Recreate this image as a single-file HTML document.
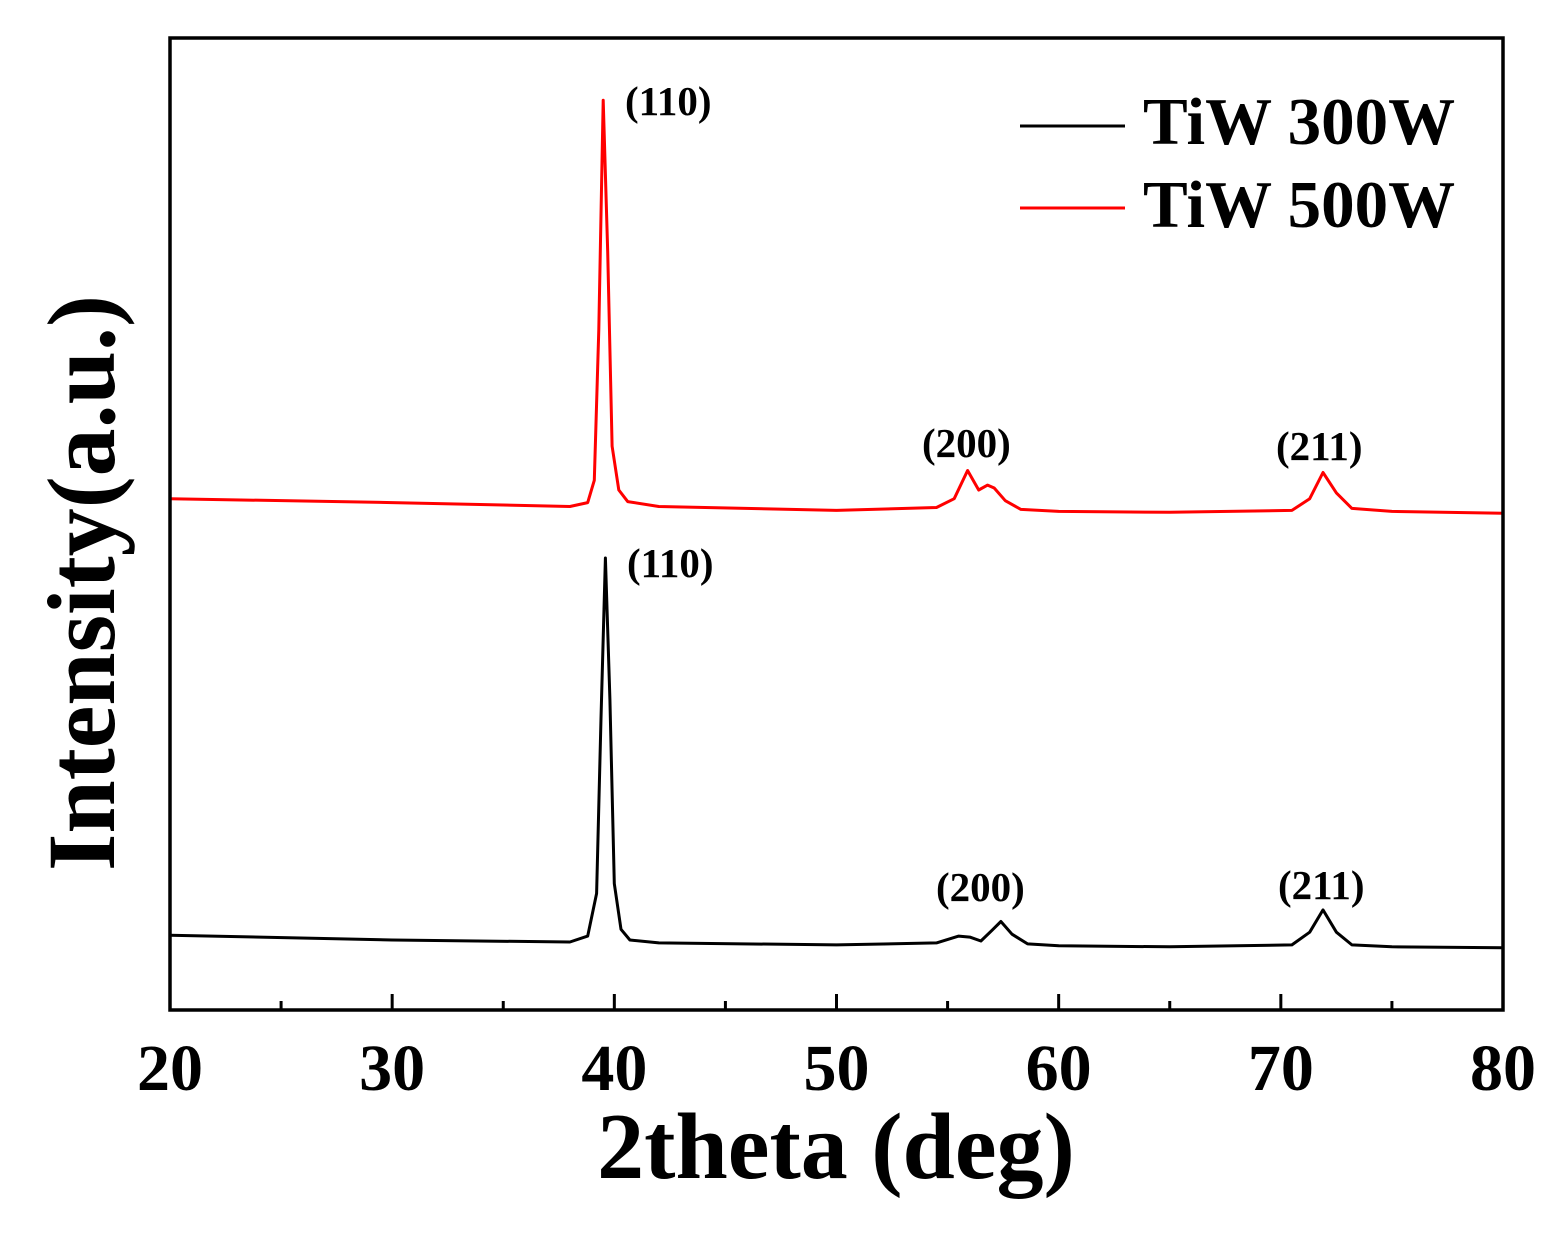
<!DOCTYPE html>
<html><head><meta charset="utf-8"><style>
body{margin:0;background:#fff}
svg text{font-family:"Liberation Serif",serif;font-weight:bold}
</style></head><body>
<svg width="1562" height="1234" viewBox="0 0 1562 1234">
<g id="plot"></g>
<rect x="170" y="38" width="1333" height="972" fill="none" stroke="#000" stroke-width="3.5"/>
<g id="ticks"></g>
<text x="836" y="1178" font-size="94" text-anchor="middle">2theta (deg)</text>
<text transform="translate(114,583) rotate(-90)" font-size="96" text-anchor="middle">Intensity(a.u.)</text>
<g>
<line x1="1020" y1="126" x2="1125" y2="126" stroke="#000" stroke-width="3"/>
<text x="1143" y="144" font-size="67">TiW 300W</text>
<line x1="1020" y1="208" x2="1125" y2="208" stroke="#f00" stroke-width="3"/>
<text x="1143" y="227" font-size="67">TiW 500W</text>
</g>
<g font-size="41">
<text x="625" y="115">(110)</text>
<text x="922" y="457">(200)</text>
<text x="1276" y="460">(211)</text>
<text x="627" y="577">(110)</text>
<text x="936" y="901">(200)</text>
<text x="1278" y="899">(211)</text>
</g>
</svg>
<script>
const tickValues=[20,30,40,50,60,70,80];
const minorTicks=[25,35,45,55,65,75];
const redX=[20,30,38,38.8,39.1,39.3,39.5,39.7,39.9,40.2,40.6,42,50,54.5,55.3,55.9,56.4,56.8,57.1,57.6,58.3,60,65,70.5,71.3,71.9,72.5,73.2,75,80];
const redY=[52.6,52.2,51.8,52.2,54.5,70,93.6,78,58,53.5,52.3,51.8,51.4,51.7,52.6,55.5,53.5,54.0,53.7,52.4,51.5,51.3,51.2,51.4,52.6,55.3,53.2,51.6,51.3,51.1];
const blackX=[20,30,38,38.8,39.2,39.4,39.6,39.8,40.0,40.3,40.7,42,50,54.5,55.5,56,56.5,57.0,57.4,57.9,58.6,60,65,70.5,71.3,71.9,72.5,73.2,75,80];
const blackY=[7.7,7.2,7.0,7.6,12,30,46.5,32,13,8.3,7.2,6.9,6.7,6.9,7.6,7.5,7.1,8.2,9.1,7.8,6.8,6.6,6.5,6.7,8.0,10.3,8.0,6.7,6.5,6.4];
const sx=v=>170+(v-20)*(1333/60);
const sy=v=>1010-v*9.72;
const NS="http://www.w3.org/2000/svg";
const plot=document.getElementById('plot');
function line(xs,ys,color,name){
  const p=document.createElementNS(NS,'polyline');
  p.setAttribute('points',xs.map((x,i)=>sx(x).toFixed(1)+','+sy(ys[i]).toFixed(1)).join(' '));
  p.setAttribute('fill','none');p.setAttribute('stroke',color);p.setAttribute('stroke-width','3');
  p.setAttribute('stroke-linejoin','round');
  
  
  plot.appendChild(p);
}
line(blackX,blackY,'#000','series-tiw-300w');
line(redX,redY,'#f00','series-tiw-500w');
const tg=document.getElementById('ticks');
tickValues.forEach(v=>{
  const l=document.createElementNS(NS,'line');
  l.setAttribute('x1',sx(v));l.setAttribute('x2',sx(v));l.setAttribute('y1',1010);l.setAttribute('y2',994);
  l.setAttribute('stroke','#000');l.setAttribute('stroke-width','3');
  
  
  tg.appendChild(l);
  const t=document.createElementNS(NS,'text');
  t.setAttribute('x',sx(v));t.setAttribute('y',1090);t.setAttribute('font-size','66');t.setAttribute('text-anchor','middle');
  t.textContent=v;
  
  
  tg.appendChild(t);
});
minorTicks.forEach(v=>{
  const l=document.createElementNS(NS,'line');
  l.setAttribute('x1',sx(v));l.setAttribute('x2',sx(v));l.setAttribute('y1',1010);l.setAttribute('y2',1001);
  l.setAttribute('stroke','#000');l.setAttribute('stroke-width','3');
  
  
  tg.appendChild(l);
});
</script>
</body></html>
